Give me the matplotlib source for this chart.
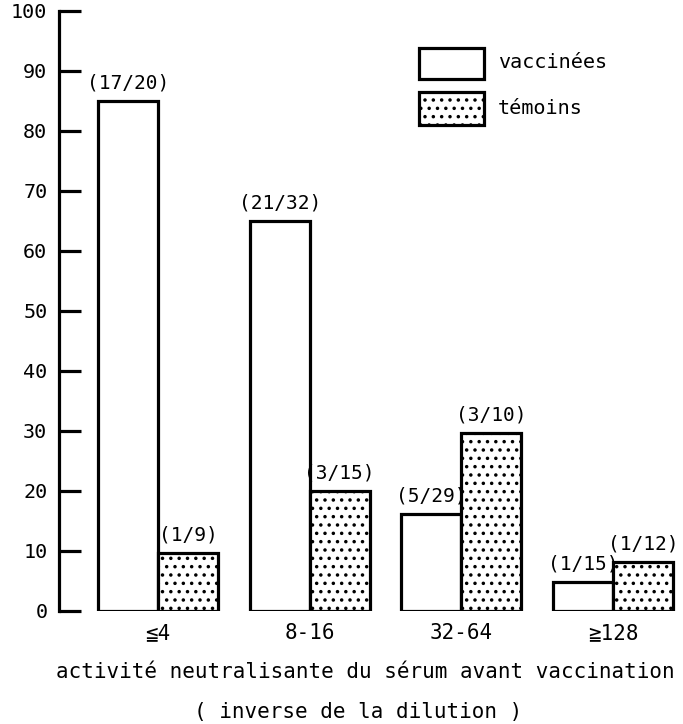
import numpy as np
import matplotlib
matplotlib.use("Agg")
import matplotlib.pyplot as plt
from matplotlib.patches import Rectangle

# data (% of subjects)
categories = ['≦4', '8-16', '32-64', '≧128']
vaccinees = [85, 65, 16.2, 4.8]
temoins = [9.7, 20, 29.7, 8.2]
labels_vacc = ['(17/20)', '(21/32)', '(5/29)', '(1/15)']
labels_tem = ['(1/9)', '(3/15)', '(3/10)', '(1/12)']
yticks = np.arange(0, 101, 10)

plt.rcParams['font.family'] = ['DejaVu Sans Mono', 'DejaVu Sans']
plt.rcParams['hatch.linewidth'] = 1.3

W, H = 683, 724
fig = plt.figure(figsize=(W / 100, H / 100), dpi=100)

# axes placed in pixel terms
left_px, bottom_px, top_px = 58.5, 113.3, 713.3
ax = fig.add_axes([left_px / W, bottom_px / H, (W - left_px) / W, (top_px - bottom_px) / H])

step = 151.7          # px between groups
c0 = 158              # px of first group centre
width = 60 / step
x = np.arange(len(categories))

b1 = ax.bar(x - width / 2, vaccinees, width, color='white', edgecolor='black', linewidth=2.3)
b2 = ax.bar(x + width / 2, temoins, width, color='white', edgecolor='black', linewidth=2.3, hatch='..')

for rect, lab in zip(b1, labels_vacc):
    ax.annotate(lab, (rect.get_x() + rect.get_width() / 2, rect.get_height()),
                xytext=(0, 6), textcoords='offset points', ha='center', va='bottom', fontsize=14)
for rect, lab in zip(b2, labels_tem):
    ax.annotate(lab, (rect.get_x() + rect.get_width() / 2, rect.get_height()),
                xytext=(0, 6), textcoords='offset points', ha='center', va='bottom', fontsize=14)

ax.set_xlim(-(c0 - left_px) / step, (W - c0) / step)
ax.set_ylim(0, 100)
ax.set_yticks(yticks)
ax.tick_params(axis='y', direction='in', length=16, width=2.3, pad=8, labelsize=14.5)
ax.set_xticks(x)
ax.set_xticklabels(categories, fontsize=15)
ax.tick_params(axis='x', length=0, pad=9)

for s in ['top', 'right', 'bottom']:
    ax.spines[s].set_visible(False)
ax.spines['left'].set_linewidth(2.3)
ax.patch.set_visible(False)

# legend drawn by hand
def px_rect(x0, y0, x1, y1, **kw):
    r = Rectangle((x0 / W, 1 - y1 / H), (x1 - x0) / W, (y1 - y0) / H,
                  transform=fig.transFigure, facecolor='white', edgecolor='black',
                  linewidth=2.3, **kw)
    fig.add_artist(r)

px_rect(419, 48, 484, 79)
px_rect(419, 92, 484, 125, hatch='..')
fig.text(498 / W, 1 - 63 / H, 'vaccinées', fontsize=14.5, va='center', ha='left')
fig.text(498 / W, 1 - 108 / H, 'témoins', fontsize=14.5, va='center', ha='left')

# axis caption
fig.text(365 / W, 1 - 678 / H, 'activité neutralisante du sérum avant vaccination',
         fontsize=15, ha='center', va='baseline')
fig.text(358 / W, 1 - 718 / H, '( inverse de la dilution )',
         fontsize=15, ha='center', va='baseline')

fig.savefig('out.png', dpi=100)
